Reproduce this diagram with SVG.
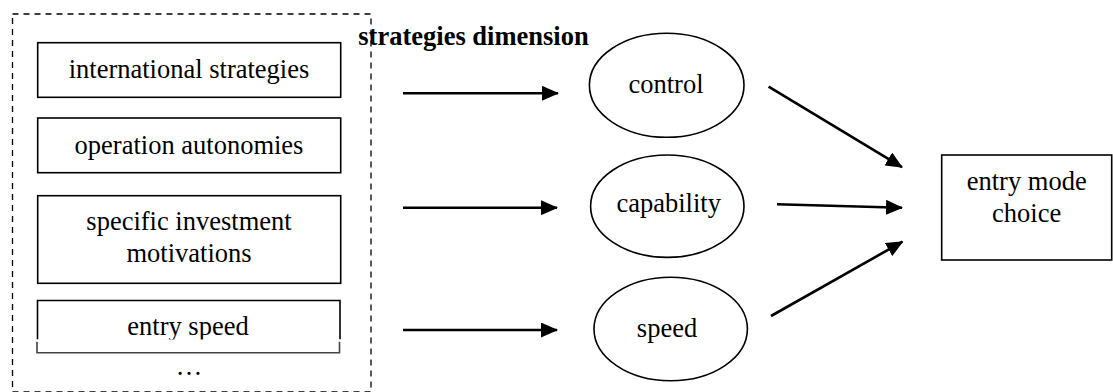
<svg xmlns="http://www.w3.org/2000/svg" width="1113" height="392" viewBox="0 0 1113 392">
  <style>
    .box { fill: #ffffff; stroke: #000000; stroke-width: 1.6; }
    .oval { fill: #ffffff; stroke: #000000; stroke-width: 1.6; }
    .lbl { font-family: "Liberation Serif", "Times New Roman", serif; font-size: 26.5px; fill: #000000; text-anchor: middle; }
    .title { font-family: "Liberation Serif", "Times New Roman", serif; font-size: 26.5px; font-weight: bold; fill: #000000; }
    .edge { stroke: #000000; stroke-width: 2.6; fill: none; marker-end: url(#head); }
    .frame { fill: none; stroke: #000000; stroke-width: 1.3; stroke-dasharray: 6 5; }
  </style>
  <defs>
    <marker id="head" viewBox="0 0 17 15" refX="16" refY="7.5" markerWidth="17" markerHeight="15" markerUnits="userSpaceOnUse" orient="auto">
      <path d="M0,0 L17,7.5 L0,15 Z" fill="#000000"/>
    </marker>
  </defs>
  <rect width="1113" height="392" fill="#ffffff"/>

  <!-- dashed frame around the strategy factors -->
  <rect id="strategy-frame" class="frame" x="12.5" y="14" width="358.5" height="378"/>

  <g id="international-strategies">
    <rect class="box" x="37.7" y="42.7" width="303" height="54.6"/>
    <text class="lbl" x="189" y="78.3">international strategies</text>
  </g>

  <g id="operation-autonomies">
    <rect class="box" x="37.7" y="118" width="303" height="54.7"/>
    <text class="lbl" x="189" y="154">operation autonomies</text>
  </g>

  <g id="investment-motivations">
    <rect class="box" x="37.7" y="195.7" width="303" height="87.6"/>
    <text class="lbl" x="189" y="230">specific investment</text>
    <text class="lbl" x="189" y="261.7">motivations</text>
  </g>

  <g id="entry-speed">
    <path d="M37.5,339.5 V300.5 H340 V339.5" fill="none" stroke="#000000" stroke-width="1.6"/>
    <text class="lbl" x="188" y="335">entry speed</text>
    <rect x="30" y="339.5" width="318" height="2" fill="#ffffff"/>
    <path d="M37,341.7 V352.7 H339.5 V341.7" fill="none" stroke="#444444" stroke-width="1.6"/>
  </g>

  <g id="more-factors">
    <text class="lbl" x="189" y="375">…</text>
  </g>

  <g id="dimension-title">
    <text class="title" x="358.3" y="45">strategies dimension</text>
  </g>

  <g id="control">
    <ellipse class="oval" cx="666.7" cy="85.3" rx="77.3" ry="52"/>
    <text class="lbl" x="666" y="92.7">control</text>
  </g>

  <g id="capability">
    <ellipse class="oval" cx="667.3" cy="206.2" rx="76.7" ry="51.2"/>
    <text class="lbl" x="668.7" y="211.7">capability</text>
  </g>

  <g id="speed">
    <ellipse class="oval" cx="670.7" cy="329" rx="76.7" ry="51.7"/>
    <text class="lbl" x="667" y="336.7">speed</text>
  </g>

  <g id="entry-mode-choice">
    <rect class="box" x="941.7" y="155" width="170" height="105"/>
    <text class="lbl" x="1026.7" y="190">entry mode</text>
    <text class="lbl" x="1026.7" y="221.7">choice</text>
  </g>

  <g id="connectors">
    <line class="edge" x1="403" y1="93.3" x2="558" y2="93.3"/>
    <line class="edge" x1="403" y1="207.7" x2="557" y2="207.7"/>
    <line class="edge" x1="403" y1="330" x2="557" y2="330"/>
    <line class="edge" x1="768.6" y1="86.7" x2="902" y2="167.2"/>
    <line class="edge" x1="777" y1="204.3" x2="902" y2="207.7"/>
    <line class="edge" x1="771" y1="316" x2="902.5" y2="241.7"/>
  </g>
</svg>
